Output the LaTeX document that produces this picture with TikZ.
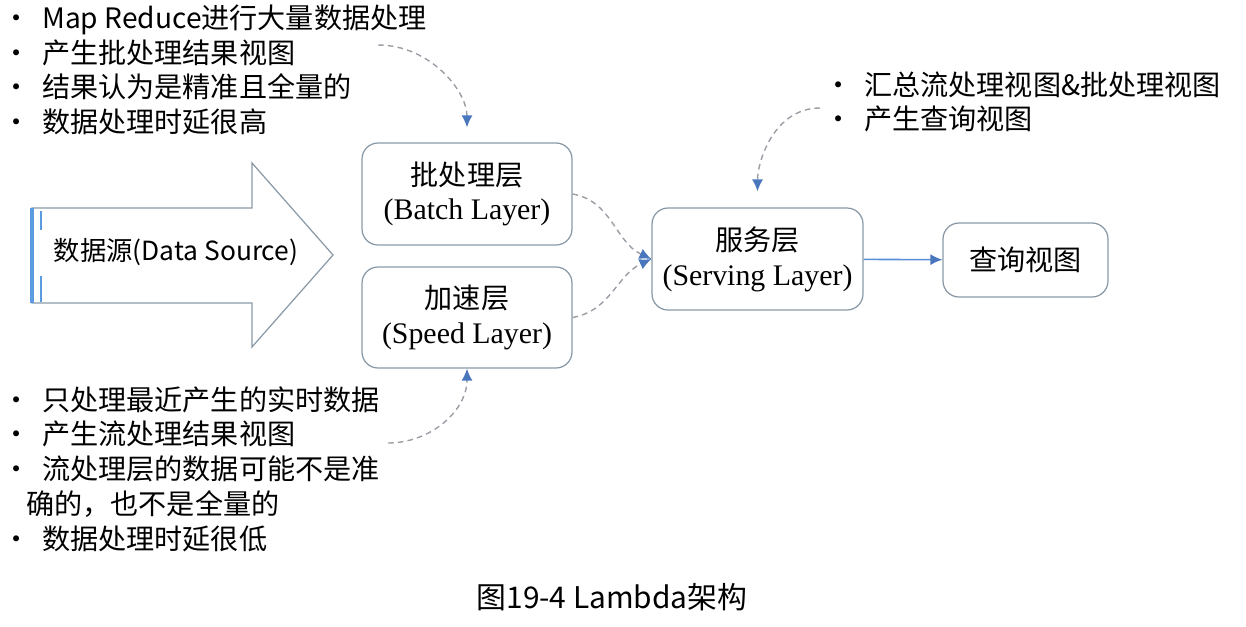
\documentclass[tikz,border=0pt]{standalone}
\usepackage{fontspec}
\setmainfont{Liberation Serif}
\newfontfamily\cjk{Noto Sans CJK SC}
\usetikzlibrary{arrows.meta}
\definecolor{boxgray}{HTML}{8A99A6}
\definecolor{tipblue}{HTML}{4A76BE}
\definecolor{linkblue}{HTML}{5B8DD6}
\definecolor{dashgray}{HTML}{9A9FA6}
\definecolor{edgeblue}{HTML}{5B9BE0}
\newcommand{\bul}{\makebox[0.56cm][l]{\hspace*{-0.24cm}·}}

\begin{document}
\begin{tikzpicture}[x=0.02cm,y=-0.02cm,
  layer/.style={draw=boxgray,line width=0.7pt,rounded corners=0.32cm,align=center,inner sep=0pt,font=\fontsize{17}{19.8}\selectfont},
  note/.style={anchor=west,align=left,inner sep=0pt,font=\cjk\fontsize{16}{19.8}\selectfont},
  dashlink/.style={dashgray,line width=0.8pt,dash pattern=on 3.2pt off 2.4pt,-{Latex[length=2.4mm,width=2.2mm,color=tipblue]}},
  solidlink/.style={linkblue,line width=0.9pt,-{Latex[length=2.4mm,width=2.2mm,color=tipblue]}}]
\useasboundingbox (0,0) rectangle (1246,626);
\draw[boxgray,line width=0.7pt] (32,208) -- (252,208) -- (252,163) -- (333,255) -- (252,347) -- (252,303) -- (32,303) -- cycle;
\draw[edgeblue,line width=2.5pt] (32,208) -- (32,303);
\draw[edgeblue,line width=1pt] (41,211) -- (41,230) (41,276) -- (41,302);
\node[font=\cjk\fontsize{15}{18}\selectfont] (src) at (176,252) {数据源(Data Source)};

\node[layer,minimum width=4.2cm,minimum height=2.04cm] (batch) at (467,194) {{\cjk\fontsize{16}{19.8}\selectfont 批处理层}\\(Batch Layer)};
\node[layer,minimum width=4.2cm,minimum height=2.02cm] (speed) at (467,317.5) {{\cjk\fontsize{16}{19.8}\selectfont 加速层}\\(Speed Layer)};
\node[layer,minimum width=4.22cm,minimum height=2.04cm] (serving) at (757.5,259) {{\cjk\fontsize{16}{19.8}\selectfont 服务层}\\(Serving Layer)};
\node[layer,minimum width=3.3cm,minimum height=1.48cm] (query) at (1025.5,260) {{\cjk\fontsize{16}{19.8}\selectfont 查询视图}};

\node[note] (batchnote) at (14,70) {\bul Map Reduce进行大量数据处理\\\bul 产生批处理结果视图\\\bul 结果认为是精准且全量的\\\bul 数据处理时延很高};
\node[note] (speednote) at (14,469) {\bul 只处理最近产生的实时数据\\\bul 产生流处理结果视图\\\bul 流处理层的数据可能不是准\\\hspace*{0.24cm}确的，也不是全量的\\\bul 数据处理时延很低};
\node[note] (servnote) at (836,102) {\bul 汇总流处理视图\&批处理视图\\\bul 产生查询视图};
\node[font=\cjk\fontsize{17}{20}\selectfont] (caption) at (612,597) {图19-4 Lambda架构};

\coordinate (batchtail) at (378,45);
\coordinate (speedtail) at (388,443);
\coordinate (servtail) at (820,108);
\draw[dashlink,shorten >=0.3cm] (batchtail) to[out=0,in=90] (batch.north);
\draw[dashlink] (speedtail) to[out=0,in=-90] (speed.south);
\draw[dashlink,shorten >=0.32cm] (servtail) to[out=180,in=90] (serving.north);
\draw[dashlink] (batch.east) to[out=-10,in=155] (serving.west);
\draw[dashlink] (speed.east) to[out=10,in=205] (serving.west);
\draw[solidlink] (serving) -- (query);
\end{tikzpicture}
\end{document}
